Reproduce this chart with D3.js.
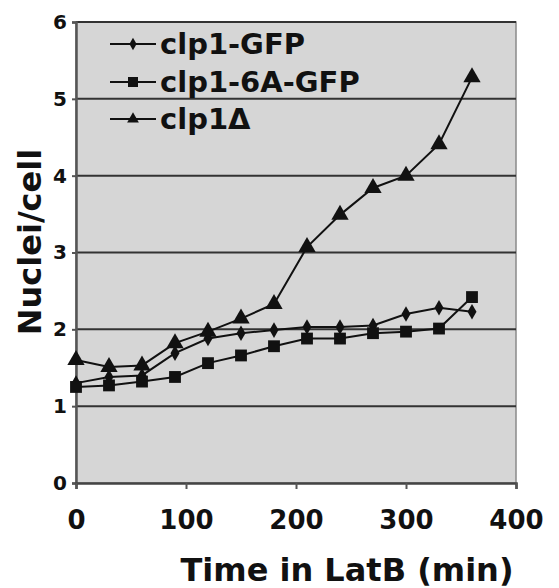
<!DOCTYPE html>
<html>
<head>
<meta charset="utf-8">
<script src="https://cdn.jsdelivr.net/npm/d3@7"></script>
<style>
  body { margin: 0; background: #fff; }
  text { font-family: "DejaVu Sans", Verdana, sans-serif; font-weight: bold; fill: #111; }
</style>
</head>
<body>
<svg id="chart" width="559" height="588"></svg>
<script>
// time points (min)
const times = [0, 30, 60, 90, 120, 150, 180, 210, 240, 270, 300, 330, 360];
const clp1GFP = [1.30, 1.38, 1.40, 1.69, 1.88, 1.95, 1.99, 2.03, 2.03, 2.05, 2.20, 2.28, 2.23];
const clp16AGFP = [1.25, 1.27, 1.32, 1.38, 1.56, 1.66, 1.78, 1.88, 1.88, 1.95, 1.97, 2.01, 2.42];
const clp1Delta = [1.60, 1.51, 1.53, 1.82, 1.97, 2.14, 2.33, 3.07, 3.49, 3.84, 4.00, 4.41, 5.28];
const seriesNames = ['clp1-GFP', 'clp1-6A-GFP', 'clp1Δ'];
const xTicks = [0, 100, 200, 300, 400];
const yTicks = [0, 1, 2, 3, 4, 5, 6];

const margin = { top: 22, right: 43, bottom: 105, left: 76 };
const width = 559, height = 588;

const svg = d3.select('#chart');
const x = d3.scaleLinear().domain([0, 400]).range([margin.left, width - margin.right]);
const y = d3.scaleLinear().domain([0, 6]).range([height - margin.bottom, margin.top]);

// plot background
svg.append('rect')
  .attr('x', x(0)).attr('y', y(6))
  .attr('width', x(400) - x(0)).attr('height', y(0) - y(6))
  .attr('fill', '#d6d6d6')
  .attr('stroke', '#8a8a8a').attr('stroke-width', 1.5);

// gridlines
svg.append('g').selectAll('line')
  .data(yTicks.filter(d => d > 0))
  .join('line')
  .attr('x1', x(0)).attr('x2', x(400))
  .attr('y1', d => y(d)).attr('y2', d => y(d))
  .attr('stroke', '#333').attr('stroke-width', 2);

// axes
const yAxis = svg.append('g')
  .attr('transform', `translate(${x(0)},0)`)
  .call(d3.axisLeft(y).tickValues(yTicks).tickSize(4).tickPadding(5).tickFormat(d3.format('d')));
yAxis.select('.domain').attr('stroke', '#555').attr('stroke-width', 2.5);
yAxis.selectAll('.tick line').attr('stroke', '#555').attr('stroke-width', 2);
yAxis.selectAll('text').attr('font-size', 20).attr('fill', '#111');

const xAxis = svg.append('g')
  .attr('transform', `translate(0,${y(0)})`)
  .call(d3.axisBottom(x).tickValues(xTicks).tickSize(6).tickPadding(22).tickFormat(d3.format('d')));
xAxis.select('.domain').attr('stroke', '#444').attr('stroke-width', 2.5);
xAxis.selectAll('.tick line').attr('stroke', '#555').attr('stroke-width', 2);
xAxis.selectAll('text').attr('font-size', 26).attr('fill', '#111');
svg.selectAll('.tick text').style('font-family', '"DejaVu Sans", sans-serif').style('font-weight', 'bold');

// axis titles
svg.append('text')
  .attr('x', 347).attr('y', 581)
  .attr('text-anchor', 'middle')
  .attr('font-size', 32)
  .text('Time in LatB (min)');

svg.append('text')
  .attr('transform', 'translate(41,242) rotate(-90)')
  .attr('text-anchor', 'middle')
  .attr('font-size', 32)
  .text('Nuclei/cell');

// series
const allSeries = [clp1GFP, clp16AGFP, clp1Delta];
const symbols = [d3.symbolDiamond, d3.symbolSquare, d3.symbolTriangle];
const symbolSizes = [70, 140, 130];

const line = d3.line()
  .x((d, i) => x(times[i]))
  .y(d => y(d));

const plot = svg.append('g').style('filter', 'blur(0.5px)');

allSeries.forEach(function (vals, k) {
  plot.append('path')
    .datum(vals)
    .attr('fill', 'none')
    .attr('stroke', '#111')
    .attr('stroke-width', 2)
    .attr('d', line);

  plot.append('g').selectAll('path')
    .data(vals)
    .join('path')
    .attr('transform', (d, i) => `translate(${x(times[i])},${y(d)})`)
    .attr('d', d3.symbol().type(symbols[k]).size(symbolSizes[k]))
    .attr('fill', '#111');
});

// legend
const legend = svg.append('g');
const legendY = [44, 82, 119];
const legendSizes = [45, 100, 60];
seriesNames.forEach(function (name, k) {
  const g = legend.append('g').attr('transform', `translate(110,${legendY[k]})`);
  g.append('line')
    .attr('x1', 0).attr('x2', 46)
    .attr('stroke', '#111').attr('stroke-width', 2);
  g.append('path')
    .attr('transform', 'translate(23,0)')
    .attr('d', d3.symbol().type(symbols[k]).size(legendSizes[k]))
    .attr('fill', '#111');
  g.append('text')
    .attr('x', 50).attr('y', 10)
    .attr('font-size', 29)
    .text(name);
});
</script>
</body>
</html>
